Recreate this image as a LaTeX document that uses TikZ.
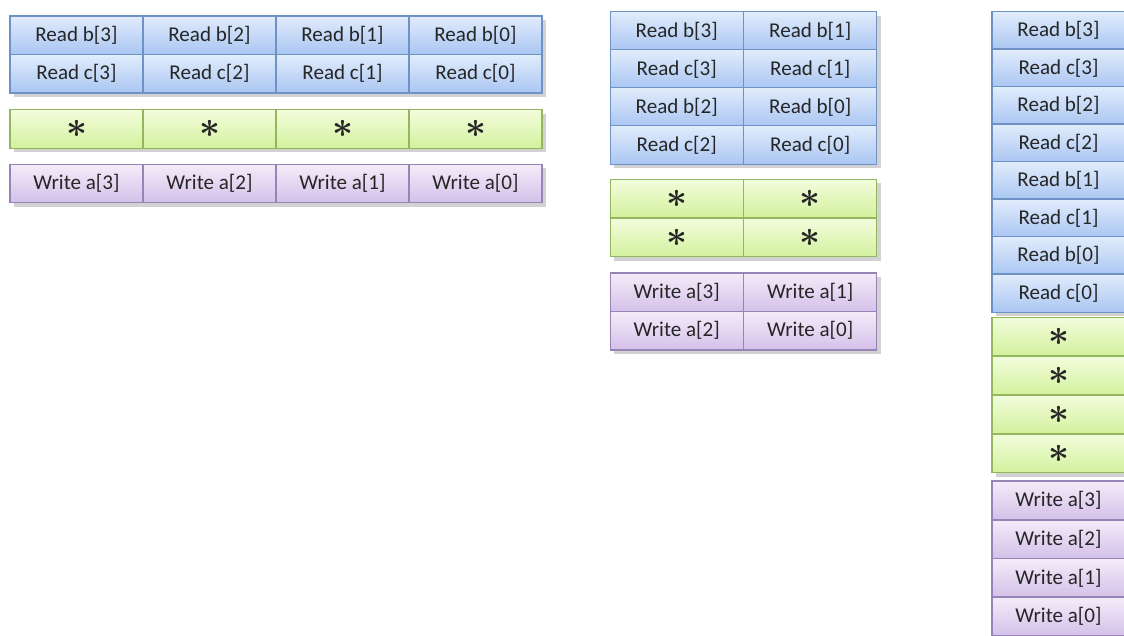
\documentclass[tikz,border=0pt]{standalone}
\usepackage{fontspec}
\setmainfont{Carlito}
\usepackage{tikz}
\usetikzlibrary{shadows}

\definecolor{rdtop}{HTML}{E2ECFC}
\definecolor{rdbot}{HTML}{A9C6F2}
\definecolor{rdline}{HTML}{6F92C6}
\definecolor{multop}{HTML}{F2FDDC}
\definecolor{mulbot}{HTML}{D3F19D}
\definecolor{mulline}{HTML}{93B65E}
\definecolor{wrtop}{HTML}{F4ECF9}
\definecolor{wrbot}{HTML}{D4C0E9}
\definecolor{wrline}{HTML}{9783B6}
\definecolor{txt}{HTML}{262626}

\tikzset{
  cell/.style={rectangle, inner sep=0pt, minimum width=2.66cm, minimum height=0.77cm,
    line width=0.8pt, text=txt, font=\fontsize{12}{14}\selectfont},
  rd/.style={cell, draw=rdline, top color=rdtop, bottom color=rdbot},
  mul/.style={cell, draw=mulline, top color=multop, bottom color=mulbot},
  wr/.style={cell, draw=wrline, top color=wrtop, bottom color=wrbot},
  group/.style={fill=white, drop shadow={opacity=0.35, shadow xshift=2pt, shadow yshift=-2.5pt}},
}
\newcommand{\mulsign}{{\fontsize{22}{24}\selectfont\boldmath$\ast$}}

\begin{document}
\begin{tikzpicture}[x=0.02cm, y=-0.02cm]
\clip (0,0) rectangle (1124,635);
\fill[white] (0,0) rectangle (1124,635);

% one column per element
\fill[group] (10,16) rectangle (542,93);
\fill[group] (10,110) rectangle (542,148);
\fill[group] (10,164) rectangle (542,203);
\foreach \i/\k in {0/3,1/2,2/1,3/0}{
  \node[rd] (A-b\k) at ({76.5+133*\i},35.25) {Read b[\k]};
  \node[rd] (A-c\k) at ({76.5+133*\i},73.75) {Read c[\k]};
  \node[mul] (A-m\k) at ({76.5+133*\i},129) {\mulsign};
  \node[wr] (A-a\k) at ({76.5+133*\i},183.5) {Write a[\k]};
}

% two columns, two rounds
\fill[group] (610,12) rectangle (877,164);
\fill[group] (610,179) rectangle (877,257);
\fill[group] (610,273) rectangle (877,350);
\foreach \r/\p/\q in {0/3/1,1/2/0}{
  \node[rd] (B-b\p) at (676.75,{31+76*\r}) {Read b[\p]};
  \node[rd] (B-b\q) at (810.25,{31+76*\r}) {Read b[\q]};
  \node[rd] (B-c\p) at (676.75,{69+76*\r}) {Read c[\p]};
  \node[rd] (B-c\q) at (810.25,{69+76*\r}) {Read c[\q]};
  \node[mul] (B-m\p) at (676.75,{198.5+39*\r}) {\mulsign};
  \node[mul] (B-m\q) at (810.25,{198.5+39*\r}) {\mulsign};
  \node[wr] (B-a\p) at (676.75,{292.25+38.5*\r}) {Write a[\p]};
  \node[wr] (B-a\q) at (810.25,{292.25+38.5*\r}) {Write a[\q]};
}

% one column, all in sequence
\fill[group] (992,12) rectangle (1125,312);
\fill[group] (992,317) rectangle (1125,473);
\fill[group] (992,481) rectangle (1125,636);
\foreach \i/\k in {0/3,1/2,2/1,3/0}{
  \node[rd] (C-b\k) at (1058.5,{30.75+75*\i}) {Read b[\k]};
  \node[rd] (C-c\k) at (1058.5,{68.25+75*\i}) {Read c[\k]};
  \node[mul] (C-m\k) at (1058.5,{336.5+39*\i}) {\mulsign};
  \node[wr] (C-a\k) at (1058.5,{500.4+38.75*\i}) {Write a[\k]};
}
\end{tikzpicture}
\end{document}
